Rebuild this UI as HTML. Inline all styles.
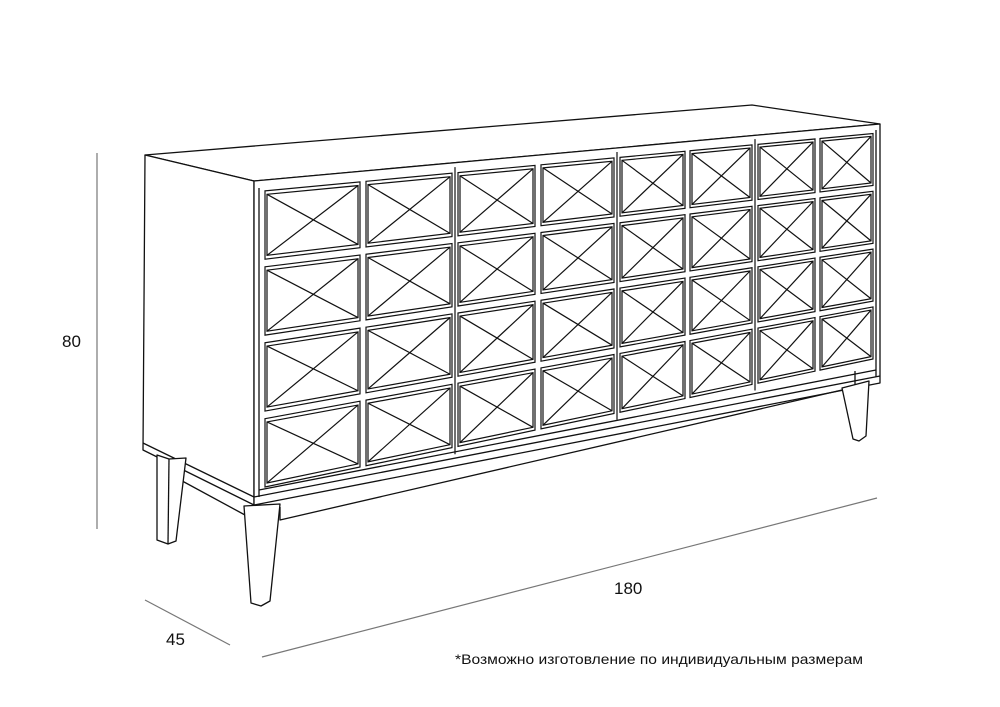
<!DOCTYPE html>
<html><head><meta charset="utf-8"><style>
html,body{margin:0;padding:0;background:#fff;}
svg{display:block}
</style></head><body>
<svg id="s" width="1000" height="707" viewBox="0 0 1000 707" xmlns="http://www.w3.org/2000/svg">
<g fill="none" stroke="#111" stroke-width="1.3" stroke-linejoin="round">
<!-- top surface -->
<polygon points="145,155 752,105 880,124 254,181" fill="#fff"/>
<line x1="145" y1="162" x2="254" y2="189"/>
<line x1="254" y1="189" x2="880" y2="131"/>
<!-- side -->
<polygon points="145,155 254,181 254,505 143,450" fill="#fff"/>
<line x1="143" y1="443" x2="254" y2="497"/>
<!-- front face -->
<polygon points="254,181 880,124 880,383 254,505" fill="#fff"/>
<line x1="259" y1="188" x2="259" y2="497"/>
<line x1="876" y1="130" x2="876" y2="377"/>
<line x1="254" y1="497" x2="880" y2="376"/>
<line x1="259" y1="490" x2="876" y2="370"/>
<!-- plinth -->
<polyline points="173,458 173,476 245,515"/>
<polyline points="280,507 280,520 842,390"/>
<polyline points="855,385 855,371"/>
<!-- legs -->
<polygon points="157,455 169,459 186,458 176,541 168,544 157,540" fill="#fff"/>
<line x1="169" y1="459" x2="168" y2="544"/>
<polygon points="244,506 280,504 270,601 261,606 251,603" fill="#fff"/>
<polygon points="842,388 869,381 866,436 859,441 853,439" fill="#fff"/>
</g>
<g id="doors" fill="none" stroke="#111" stroke-width="1.2"></g>
<g fill="none" stroke="#777" stroke-width="1.2">
<line x1="97" y1="153" x2="97" y2="529"/>
<line x1="145" y1="600" x2="230" y2="645"/>
<line x1="262" y1="657" x2="877" y2="498"/>
</g>
<g font-family="Liberation Sans, sans-serif" fill="#111">
<text x="62" y="347" font-size="17">80</text>
<text x="166" y="645" font-size="17">45</text>
<text x="614" y="594" font-size="17">180</text>
<text x="455" y="664" font-size="14" textLength="408" lengthAdjust="spacingAndGlyphs">*Возможно изготовление по индивидуальным размерам</text>
</g>
</svg>
<script>
(function(){
var g=document.getElementById('doors');var NS='http://www.w3.org/2000/svg';
function top(x){return 188+(x-263)*(131-188)/612;}
function bot(x){return 492+(x-263)*(362-492)/612;}
function P(x,f){return [x,top(x)+(bot(x)-top(x))*f];}
var cols=[[265,360],[366,452],[458,535],[541,614],[620,685],[690,752],[758,815],[820,873]];
var rows=[[0.01,0.235],[0.26,0.485],[0.51,0.735],[0.76,0.985]];
function add(tag,a){var e=document.createElementNS(NS,tag);for(var k in a)e.setAttribute(k,a[k]);g.appendChild(e);}
cols.forEach(function(c){rows.forEach(function(r){
 var a=P(c[0],r[0]),b=P(c[1],r[0]),cc=P(c[1],r[1]),d=P(c[0],r[1]);
 add('polygon',{points:[a,b,cc,d].map(function(p){return p.join(',')}).join(' ')});
 var i=2;
 var a2=P(c[0]+i,r[0]+0.012),b2=P(c[1]-i,r[0]+0.012),c2=P(c[1]-i,r[1]-0.012),d2=P(c[0]+i,r[1]-0.012);
 add('polygon',{points:[a2,b2,c2,d2].map(function(p){return p.join(',')}).join(' ')});
 add('line',{x1:a2[0],y1:a2[1],x2:c2[0],y2:c2[1]});
 add('line',{x1:b2[0],y1:b2[1],x2:d2[0],y2:d2[1]});
});});
[455,617,755].forEach(function(x){var t=P(x,0),b=P(x,1);add('line',{x1:x,y1:t[1]-3,x2:x,y2:b[1]+3});});
})();
</script>
</body></html>
